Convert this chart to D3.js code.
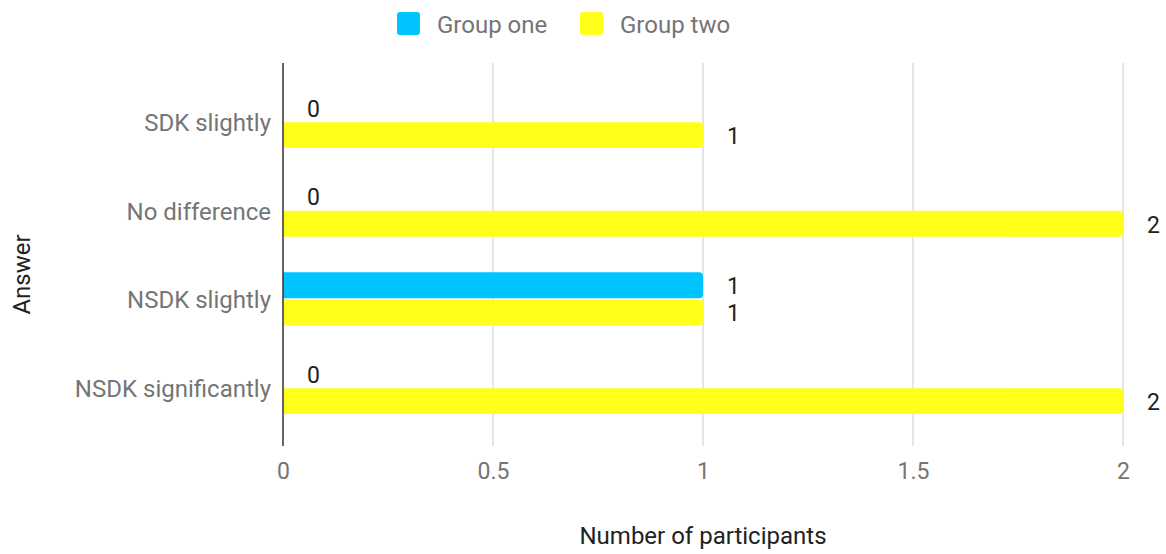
<!DOCTYPE html>
<html>
<head>
<meta charset="utf-8">
<script src="https://cdn.jsdelivr.net/npm/d3@7"></script>
<style>
  html, body { margin: 0; padding: 0; background: #fff; }
  svg { display: block; font-family: Roboto, "Noto Sans", sans-serif; }
</style>
</head>
<body>
<svg id="chart" width="1166" height="554"></svg>
<script>
const categories = ["SDK slightly", "No difference", "NSDK slightly", "NSDK significantly"];
const groups = ["Group one", "Group two"];
const groupOne = [0, 0, 1, 0];
const groupTwo = [1, 2, 1, 2];
const xTicks = [0, 0.5, 1, 1.5, 2];
const xTickLabels = ["0", "0.5", "1", "1.5", "2"];
const colors = ["#00c3ff", "#ffff1a"];
const xTitle = "Number of participants";
const yTitle = "Answer";

const svg = d3.select("#chart");
const plot = { left: 283, right: 1123, top: 63, bottom: 446 };

const x = d3.scaleLinear().domain([0, 2]).range([plot.left, plot.right]);
const y = d3.scaleBand().domain(categories).range([plot.top, plot.bottom])
  .paddingInner(0.4).paddingOuter(0.36);
const yInner = d3.scaleBand().domain(groups).range([0, y.bandwidth()]).paddingInner(0.05);

const series = [groupOne, groupTwo];
const data = [];
categories.forEach((c, i) => {
  groups.forEach((g, j) => data.push({ cat: c, group: g, gi: j, value: series[j][i] }));
});

// gridlines
svg.append("g").selectAll("line").data(xTicks.filter(t => t !== 0)).join("line")
  .attr("x1", d => x(d)).attr("x2", d => x(d))
  .attr("y1", plot.top).attr("y2", plot.bottom)
  .attr("stroke", "#cccccc").attr("stroke-width", 1);

// bars with rounded right end
function barPath(x0, y0, w, h, r) {
  if (w <= 0) return "";
  r = Math.min(r, w, h / 2);
  return `M${x0},${y0}H${x0 + w - r}Q${x0 + w},${y0} ${x0 + w},${y0 + r}` +
         `V${y0 + h - r}Q${x0 + w},${y0 + h} ${x0 + w - r},${y0 + h}H${x0}Z`;
}
svg.append("g").selectAll("path").data(data).join("path")
  .attr("d", d => barPath(x(0), y(d.cat) + yInner(d.group), x(d.value) - x(0), yInner.bandwidth(), 4))
  .attr("fill", d => colors[d.gi]);

// zero axis line
svg.append("line")
  .attr("x1", x(0)).attr("x2", x(0))
  .attr("y1", plot.top).attr("y2", plot.bottom)
  .attr("stroke", "#333333").attr("stroke-width", 1.5);

// value annotations
svg.append("g").selectAll("text").data(data).join("text")
  .attr("x", d => x(d.value) + 24)
  .attr("y", d => y(d.cat) + yInner(d.group) + yInner.bandwidth() / 2)
  .attr("dy", "0.38em")
  .attr("font-size", 23)
  .attr("fill", "#222222")
  .text(d => d.value);

// x tick labels
const xAxis = d3.axisBottom(x).tickValues(xTicks).tickSize(0).tickPadding(0)
  .tickFormat((d, i) => xTickLabels[i]);
const gx = svg.append("g").attr("transform", `translate(0,${plot.bottom + 17})`).call(xAxis);
gx.select(".domain").remove();
gx.selectAll("text").attr("font-size", 23).attr("fill", "#757575")
  .attr("font-family", "Roboto, sans-serif").attr("dy", "0.71em");

// y category labels
const yAxis = d3.axisLeft(y).tickSize(0).tickPadding(0);
const gy = svg.append("g").attr("transform", `translate(${plot.left - 12},0)`).call(yAxis);
gy.select(".domain").remove();
gy.selectAll("text").attr("font-size", 24).attr("fill", "#757575")
  .attr("font-family", "Roboto, sans-serif").attr("dy", "0.4em");

// axis titles
svg.append("text").attr("x", (plot.left + plot.right) / 2).attr("y", 544)
  .attr("text-anchor", "middle").attr("font-size", 24).attr("fill", "#222222")
  .text(xTitle);
svg.append("text").attr("transform", `translate(30,${(plot.top + plot.bottom) / 2 + 20}) rotate(-90)`)
  .attr("text-anchor", "middle").attr("font-size", 24).attr("fill", "#222222")
  .text(yTitle);

// legend
const legendPos = [397, 580];
const lg = svg.append("g").selectAll("g").data(groups).join("g")
  .attr("transform", (d, i) => `translate(${legendPos[i]},12)`);
lg.append("rect").attr("width", 23).attr("height", 23).attr("rx", 3)
  .attr("fill", (d, i) => colors[i]);
lg.append("text").attr("x", 40).attr("y", 12).attr("dy", "0.36em")
  .attr("font-size", 24).attr("fill", "#757575").text(d => d);
</script>
</body>
</html>
